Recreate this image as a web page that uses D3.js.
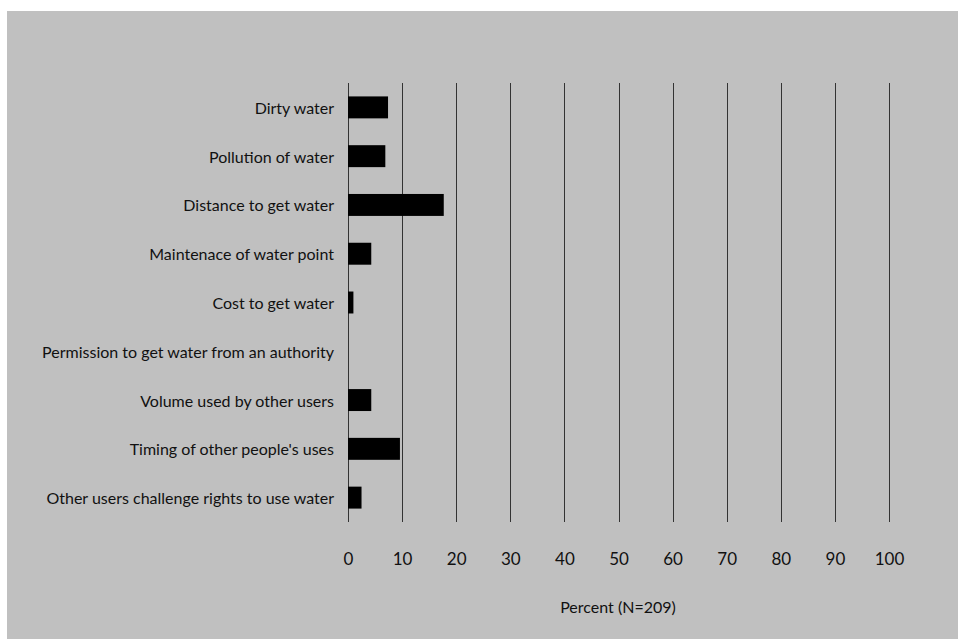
<!DOCTYPE html>
<html><head><meta charset="utf-8">
<script src="https://cdn.jsdelivr.net/npm/d3@7"></script>
<style>html,body{margin:0;padding:0;background:#fff;} svg{display:block;}</style>
</head><body>
<svg id="chart" width="958" height="639"></svg>
<script>
const categories = [
  "Dirty water",
  "Pollution of water",
  "Distance to get water",
  "Maintenace of water point",
  "Cost to get water",
  "Permission to get water from an authority",
  "Volume used by other users",
  "Timing of other people's uses",
  "Other users challenge rights to use water"
];
const values = [7.4, 6.9, 17.7, 4.3, 1.0, 0, 4.3, 9.6, 2.5];
const xTicks = [0,10,20,30,40,50,60,70,80,90,100];
const xTitle = "Percent (N=209)";

const svg = d3.select("#chart");
const font = "Lato, 'Open Sans', sans-serif";
svg.append("rect").attr("x",7).attr("y",11).attr("width",951).attr("height",628).attr("fill","#c0c0c0");

const x = d3.scaleLinear().domain([0,100]).range([348,889]);
const y = d3.scaleBand().domain(categories).range([83,522]).paddingInner(0.55).paddingOuter(0.275);

// gridlines
svg.append("g").selectAll("line").data(xTicks).join("line")
  .attr("x1",d=>Math.round(x(d))+0.5).attr("x2",d=>Math.round(x(d))+0.5)
  .attr("y1",83).attr("y2",522).attr("stroke","#333").attr("stroke-width",1);

// bars
svg.append("g").selectAll("rect").data(categories).join("rect")
  .attr("x",x(0)).attr("y",d=>y(d))
  .attr("width",(d,i)=>x(values[i])-x(0)).attr("height",y.bandwidth())
  .attr("fill","#000");

// category labels
svg.append("g").selectAll("text").data(categories).join("text")
  .attr("x",334).attr("y",d=>y(d)+y.bandwidth()/2)
  .attr("text-anchor","end").attr("dominant-baseline","central")
  .attr("font-family",font).attr("font-size",16).attr("fill","#111")
  .text(d=>d);

// x axis tick labels
const xAxis = d3.axisBottom(x).tickValues(xTicks).tickSize(0).tickPadding(0);
const gx = svg.append("g").attr("transform","translate(0,553)").call(xAxis);
gx.select(".domain").remove();
gx.selectAll("text").attr("font-family",font).attr("font-size",17).attr("fill","#111").attr("dy","0.71em");

svg.append("text").attr("x",618).attr("y",606).attr("text-anchor","middle")
  .attr("dominant-baseline","central")
  .attr("font-family",font).attr("font-size",16).attr("fill","#111").text(xTitle);
</script>
</body></html>
